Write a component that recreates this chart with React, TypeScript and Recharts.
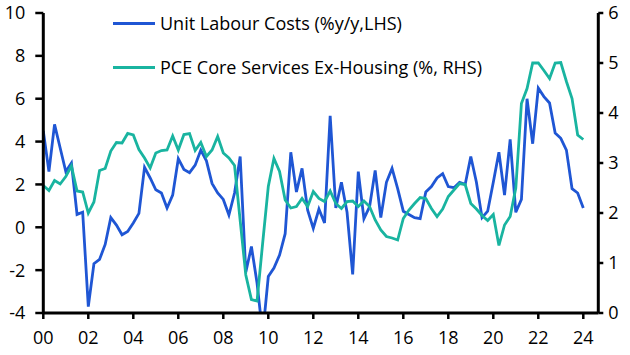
import { LineChart, Line, XAxis, YAxis } from 'recharts';

const START_YEAR = 2000;

// quarterly, 2000Q1 - 2024Q1
const unitLabourCosts = [
  4.5, 2.6, 4.8, 3.7,
  2.6, 3.0, 0.6, 0.7,
  -3.7, -1.7, -1.5, -0.8,
  0.45, 0.1, -0.35, -0.2,
  0.2, 0.65, 2.8, 2.3,
  1.75, 1.6, 0.9, 1.5,
  3.2, 2.7, 2.55, 2.9,
  3.6, 3.1, 2.05, 1.6,
  1.3, 0.57, 1.6, 3.3,
  -2.1, -0.9, -2.6, -5.0,
  -2.3, -1.9, -1.3, -0.3,
  3.5, 1.65, 2.75, 0.8,
  -0.05, 0.85, 0.2, 5.2,
  0.9, 2.1, 0.7, -2.2,
  2.6, 0.4, 0.95, 2.65,
  0.45, 2.1, 2.75, 1.8,
  0.75, 0.6, 0.45, 0.4,
  1.65, 1.9, 2.3, 2.5,
  1.9, 1.85, 2.1, 2.0,
  3.3, 2.1, 0.45, 0.75,
  2.1, 3.5, 1.5, 4.1,
  0.7, 1.3, 6.0, 3.9,
  6.5, 6.1, 5.8, 4.4,
  4.15, 3.6, 1.8, 1.6,
  0.9,
];

const pceCoreServicesExHousing = [
  2.55, 2.45, 2.65, 2.58,
  2.73, 2.94, 2.44, 2.42,
  2.0, 2.22, 2.85, 2.89,
  3.24, 3.41, 3.4, 3.59,
  3.56, 3.27, 3.1, 2.9,
  3.2, 3.25, 3.26, 3.54,
  3.26, 3.57, 3.59, 3.25,
  3.41, 3.13, 3.26, 3.53,
  3.2, 3.1, 2.95, 1.85,
  0.76, 0.27, 0.24, 1.4,
  2.53, 3.09, 2.83, 2.26,
  2.1, 2.13, 2.29, 2.13,
  2.43, 2.29, 2.23, 2.44,
  2.19, 2.09, 2.23, 2.24,
  2.13, 2.24, 2.13, 1.86,
  1.66, 1.53, 1.5, 1.46,
  1.89, 2.06, 2.19, 2.31,
  2.29, 2.09, 1.93, 2.08,
  2.33, 2.46, 2.59, 2.57,
  2.19, 2.08, 1.95, 1.85,
  1.97, 1.35, 1.76, 1.93,
  2.5, 4.19, 4.49, 5.0,
  5.0, 4.85, 4.69, 5.0,
  5.01, 4.63, 4.29, 3.56,
  3.47,
];

const yearTicks = [2000, 2002, 2004, 2006, 2008, 2010, 2012, 2014, 2016, 2018, 2020, 2022, 2024];
const leftTicks = [-4, -2, 0, 2, 4, 6, 8, 10];
const rightTicks = [0, 1, 2, 3, 4, 5, 6];

const seriesNames = ['Unit Labour Costs (%y/y,LHS)', 'PCE Core Services Ex-Housing (%, RHS)'];
const BLUE = '#1f56d4';
const TEAL = '#19b4a0';
const FONT = "'Open Sans', sans-serif";

const data = unitLabourCosts.map((v, i) => ({
  t: START_YEAR + i / 4,
  ulc: v,
  pce: pceCoreServicesExHousing[i],
}));

const axisLine = { stroke: '#000', strokeWidth: 3 };
const tickLine = { stroke: '#000', strokeWidth: 2.5 };
const tick = { fill: '#000', fontSize: 18, fontFamily: FONT };

export default function App() {
  const legend = [
    { name: seriesNames[0], color: BLUE },
    { name: seriesNames[1], color: TEAL },
  ];

  return (
    <div style={{ position: 'absolute', left: 0, top: 0, width: 630, height: 355, background: '#fff' }}>
      <LineChart width={630} height={355} data={data} margin={{ top: 13, right: 0, bottom: 0, left: 0 }}>
        <XAxis
          dataKey="t"
          type="number"
          domain={[2000, 2024.667]}
          ticks={yearTicks}
          interval={0}
          allowDataOverflow
          tickFormatter={(v: number) => String(Math.round(v) % 100).padStart(2, '0')}
          height={42}
          tickSize={6}
          tickMargin={12}
          axisLine={axisLine}
          tickLine={tickLine}
          tick={tick}
        />
        <YAxis
          yAxisId="left"
          domain={[-4, 10]}
          ticks={leftTicks}
          interval={0}
          allowDataOverflow
          width={43.3}
          tickSize={8}
          tickMargin={10}
          axisLine={axisLine}
          tickLine={tickLine}
          tick={tick}
        />
        <YAxis
          yAxisId="right"
          orientation="right"
          domain={[0, 6]}
          ticks={rightTicks}
          interval={0}
          allowDataOverflow
          width={31.7}
          tickSize={5}
          tickMargin={5}
          axisLine={axisLine}
          tickLine={tickLine}
          tick={tick}
        />
        <Line
          yAxisId="left"
          dataKey="ulc"
          type="linear"
          stroke={BLUE}
          strokeWidth={2.8}
          dot={false}
          isAnimationActive={false}
        />
        <Line
          yAxisId="right"
          dataKey="pce"
          type="linear"
          stroke={TEAL}
          strokeWidth={2.8}
          dot={false}
          isAnimationActive={false}
        />
      </LineChart>
      <div style={{ position: 'absolute', left: 113, top: 9, fontFamily: FONT, fontSize: 18, color: '#000' }}>
        {legend.map((item) => (
          <div key={item.name} style={{ display: 'flex', alignItems: 'center', height: 28, marginBottom: 16 }}>
            <div style={{ width: 42, height: 3, background: item.color, marginRight: 5 }} />
            <span style={{ whiteSpace: 'nowrap' }}>{item.name}</span>
          </div>
        ))}
      </div>
    </div>
  );
}
